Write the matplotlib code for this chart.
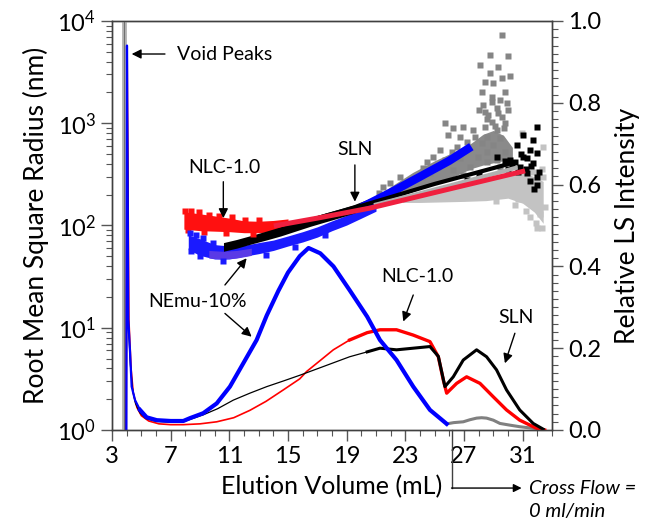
import matplotlib
matplotlib.use('Agg')
import matplotlib.pyplot as plt
from matplotlib.ticker import MultipleLocator, LogLocator, NullFormatter

plt.rcParams['font.family'] = ['Lato', 'DejaVu Sans']
plt.rcParams['mathtext.fontset'] = 'custom'
plt.rcParams['mathtext.rm'] = 'Lato'
plt.rcParams['mathtext.it'] = 'Lato:italic'
plt.rcParams['mathtext.default'] = 'regular'

# ---- light scattering traces (right axis, relative intensity) ----
gray_void_x = [3.84, 3.84]
gray_void_y = [0.0, 1.0]

red_ls_x = [3.97, 4.03, 4.15, 4.3, 4.45, 4.7, 5.0, 5.5, 6.2, 7.0, 7.86, 9.0, 10.14, 11.3, 12.4,
            13.5, 14.68, 15.8, 16.27, 17.2, 18.09, 19.2, 20.4, 21.27, 22.4, 23.54, 24.68, 25.25,
            25.59, 25.82, 26.5, 27.18, 28.09, 29.0, 29.9, 30.8, 31.95, 32.5]
red_ls_y = [0.0, 0.93, 0.27, 0.15, 0.09, 0.055, 0.035, 0.022, 0.015, 0.013, 0.013, 0.015, 0.02,
            0.03, 0.048, 0.07, 0.098, 0.125, 0.143, 0.17, 0.196, 0.22, 0.238, 0.245, 0.245, 0.232,
            0.216, 0.179, 0.122, 0.09, 0.114, 0.13, 0.114, 0.081, 0.049, 0.024, 0.004, 0.0]

black_ls_x = [3.97, 4.03, 4.12, 4.25, 4.4, 4.6, 4.9, 5.3, 6.0, 7.0, 7.86, 9.22, 10.2, 11.27, 12.4,
              13.55, 14.7, 15.82, 17.4, 19.2, 20.4, 21.27, 22.4, 23.54, 24.68, 25.25, 25.7, 26.27,
              26.95, 27.86, 28.54, 29.22, 29.9, 30.8, 31.72, 32.4]
black_ls_y = [0.0, 0.9, 0.26, 0.16, 0.1, 0.065, 0.042, 0.028, 0.021, 0.019, 0.02, 0.037, 0.052,
              0.073, 0.09, 0.106, 0.12, 0.134, 0.155, 0.179, 0.191, 0.2, 0.196, 0.2, 0.204, 0.18,
              0.106, 0.13, 0.171, 0.196, 0.179, 0.147, 0.098, 0.049, 0.016, 0.002]

blue_ls_x = [3.98, 4.02, 4.11, 4.23, 4.34, 4.57, 4.91, 5.36, 6.05, 7.0, 7.86, 8.32, 9.22, 10.14,
             11.04, 11.95, 12.86, 13.55, 14.34, 15.0, 15.8, 16.4, 17.2, 18.1, 19.2, 20.4, 21.27,
             22.4, 23.54, 24.68, 25.82]
blue_ls_y = [0.0, 0.94, 0.27, 0.19, 0.106, 0.073, 0.049, 0.031, 0.024, 0.022, 0.022, 0.029, 0.041,
             0.065, 0.106, 0.163, 0.22, 0.28, 0.34, 0.385, 0.425, 0.445, 0.432, 0.40, 0.342, 0.277,
             0.22, 0.171, 0.106, 0.049, 0.015]

gray_ls_x = [25.82, 26.3, 26.95, 27.4, 27.86, 28.2, 28.54, 29.0, 29.45, 30.1, 30.8, 31.5, 32.2]
gray_ls_y = [0.015, 0.018, 0.02, 0.025, 0.029, 0.03, 0.029, 0.024, 0.016, 0.012, 0.008, 0.005, 0.002]

# ---- RMS radius (left axis, nm) ----
red_band_x = [7.9, 9.0, 10.0, 11.0, 12.0, 13.0, 14.0, 15.0]
red_band_lo = [92, 89, 88, 87, 85, 85, 87, 92]
red_band_hi = [136, 130, 124, 118, 111, 110, 112, 116]
red_pts_x = [8.0, 8.4, 8.9, 9.6, 10.3, 11.2, 12.1, 13.0, 8.2, 9.3, 10.8, 12.6]
red_pts_y = [140, 138, 134, 128, 125, 120, 114, 113, 90, 86, 84, 83]

blue_band_x = [8.2, 9.0, 10.0, 11.0, 12.0, 13.0, 14.0, 15.0, 16.0, 17.0, 18.0, 19.0, 20.0, 21.0]
blue_band_lo = [58, 51, 47, 47, 50, 53, 57, 63, 69, 77, 89, 101, 118, 138]
blue_band_hi = [81, 74, 65, 63, 64, 68, 72, 79, 87, 97, 111, 126, 146, 170]
blue_pts_x = [8.3, 8.7, 9.2, 9.9, 8.4, 9.0, 10.6, 13.5, 15.5, 17.5]
blue_pts_y = [84, 80, 76, 68, 56, 50, 45, 51, 61, 80]

purple_x = [9.6, 10.5, 11.5, 12.5]
purple_lo = [48, 47, 48, 51]
purple_hi = [57, 56, 57, 60]

black_band_x = [10.6, 11.5, 12.5, 13.5, 14.5, 15.5, 16.5, 17.5, 18.5, 19.5, 20.5]
black_band_lo = [56, 60, 66, 72, 79, 88, 98, 108, 119, 132, 150]
black_band_hi = [68, 73, 80, 88, 97, 107, 119, 132, 145, 160, 182]

lgray_band_x = [22.8, 24.0, 25.5, 27.0, 28.5, 30.0, 31.0, 31.8, 32.4]
lgray_band_lo = [168, 168, 170, 172, 175, 185, 165, 135, 105]
lgray_band_hi = [182, 209, 234, 257, 282, 316, 330, 300, 270]

lgray_pts_x = [32.4, 32.4, 30.93, 32.0, 32.3, 31.9, 32.5, 31.5, 32.2, 31.2, 30.5, 29.2, 32.1,
               31.7, 32.3, 31.1, 30.7]
lgray_pts_y = [300, 589, 800, 95, 94, 105, 150, 120, 130, 140, 160, 175, 240, 330, 360, 350, 180]

dgray_band_x = [20.5, 22.0, 23.5, 25.0, 26.5, 27.5, 28.3, 29.0, 29.7, 30.3]
dgray_band_lo = [140, 175, 215, 255, 310, 360, 390, 410, 430, 450]
dgray_band_hi = [170, 240, 330, 430, 540, 640, 780, 850, 760, 580]

dgray_pts_x = [29.57, 28.77, 30.02, 28.09, 29.34, 28.77, 29.57, 30.14, 28.43, 29.0, 29.8, 28.2,
               28.89, 29.45, 29.9, 28.32, 29.23, 30.02, 28.0, 28.66, 29.57, 28.89, 29.8, 28.43,
               25.7, 26.27, 26.95, 27.64, 29.23, 25.93, 26.73, 27.75, 28.55, 29.45, 27.18, 28.2,
               29.0, 26.5, 25.36, 26.16, 28.55, 29.8, 24.9, 25.7, 26.73, 27.98, 29.23, 24.45,
               25.25, 27.41, 28.55, 24.23, 26.27, 29.45, 24.68, 26.95, 24.11, 22.63, 21.95, 21.5,
               23.3, 22.9, 21.2, 28.6, 29.3, 29.1, 28.4, 29.7, 28.9]
dgray_pts_y = [7300, 4660, 4550, 3720, 3580, 3080, 2750, 2900, 2550, 2460, 2040, 2040, 1820,
               1690, 1570, 1510, 1400, 1350, 1350, 1205, 1160, 1040, 1000, 927, 1000, 890, 927,
               860, 860, 767, 740, 740, 740, 713, 661, 637, 613, 590, 548, 527, 527, 527, 471,
               437, 454, 471, 437, 421, 377, 377, 421, 362, 349, 377, 324, 312, 300, 300, 260,
               240, 280, 250, 210, 1100, 1250, 950, 1300, 900, 1600]

black_pts_x = [31.95, 31.04, 31.72, 30.59, 31.5, 31.95, 31.04, 30.13, 31.72, 30.81, 31.27, 31.95,
               31.95, 29.22, 30.5, 31.3, 31.6, 30.9, 31.2, 32.1, 31.8, 31.5, 30.3, 29.8, 28.0,
               27.2, 30.0, 30.7]
black_pts_y = [925, 767, 685, 612, 547, 508, 471, 437, 406, 376, 324, 300, 249, 471, 420, 460,
               380, 500, 360, 330, 230, 270, 390, 430, 310, 280, 360, 330]

# fitted lines
blue_fit_x = [20.0, 22.0, 24.0, 26.0, 27.5]
blue_fit_y = [150, 210, 300, 430, 590]
black_fit_x = [14.0, 17.0, 20.6, 25.0, 30.2]
black_fit_y = [85, 118, 165, 255, 405]
lgray_fit_x = [21.0, 26.0, 30.5]
lgray_fit_y = [160, 245, 365]
red_fit_x = [14.2, 17.0, 20.6, 25.0, 31.0]
red_fit_y = [100, 118, 148, 210, 338]

xticks = [3, 7, 11, 15, 19, 23, 27, 31]

fig = plt.figure(figsize=(6.52, 5.21), dpi=100)
ax = fig.add_axes([0.1718, 0.1747, 0.6748, 0.785])
ax2 = ax.twinx()

# left axis: RMS radius
ms = 4.3
ax.fill_between(lgray_band_x, lgray_band_lo, lgray_band_hi, color='#c3c3c3', lw=0)
ax.plot(lgray_pts_x, lgray_pts_y, 's', ms=ms, color='#c3c3c3', mec='none')
ax.fill_between(dgray_band_x, dgray_band_lo, dgray_band_hi, color='#8a8a8a', lw=0)
ax.plot(dgray_pts_x, dgray_pts_y, 's', ms=ms, color='#858585', mec='none')
ax.plot(black_pts_x, black_pts_y, 's', ms=ms, color='black', mec='none')
ax.fill_between(red_band_x, red_band_lo, red_band_hi, color='#ff1010', lw=0)
ax.plot(red_pts_x, red_pts_y, 's', ms=ms, color='#ff1010', mec='none')
ax.fill_between(blue_band_x, blue_band_lo, blue_band_hi, color='#1a1aff', lw=0)
ax.plot(blue_pts_x, blue_pts_y, 's', ms=ms, color='#1a1aff', mec='none')
ax.fill_between(purple_x, purple_lo, purple_hi, color='#5a3ae6', lw=0)
ax.fill_between(black_band_x, black_band_lo, black_band_hi, color='black', lw=0)
ax.plot(blue_fit_x, blue_fit_y, color='#0000ff', lw=6, solid_capstyle='butt')
ax.plot(black_fit_x, black_fit_y, color='black', lw=3)
ax.plot(lgray_fit_x, lgray_fit_y, color='#b0b0b0', lw=3)
ax.plot(red_fit_x, red_fit_y, color='#f0203f', lw=3.6)

# right axis: LS intensity (noisy parts drawn thicker)
ax2.plot(gray_void_x, gray_void_y, color='#b4b4b4', lw=3.5, solid_capstyle='butt')
ax2.plot(gray_void_x, gray_void_y, color='#707070', lw=0.8)
ax2.plot(gray_ls_x, gray_ls_y, color='#808080', lw=2.2)
ax2.plot(red_ls_x, red_ls_y, color='#ff0000', lw=1.2)
ax2.plot(red_ls_x[21:], red_ls_y[21:], color='#ff0000', lw=2.4)
ax2.plot(black_ls_x, black_ls_y, color='black', lw=0.9)
ax2.plot(black_ls_x[20:], black_ls_y[20:], color='black', lw=2.2)
ax2.plot(blue_ls_x, blue_ls_y, color='#0000ff', lw=1.6)
ax2.plot(blue_ls_x[6:], blue_ls_y[6:], color='#0000ff', lw=3.0)

ax.set_xlim(3, 33)
ax.set_yscale('log')
ax.set_ylim(1, 1e4)
ax2.set_ylim(0, 1.0)

ax.set_xticks(xticks)
ax.xaxis.set_minor_locator(MultipleLocator(1))
ax.yaxis.set_major_locator(LogLocator(base=10))
ax.yaxis.set_minor_locator(LogLocator(base=10, subs=range(2, 10)))
ax.yaxis.set_minor_formatter(NullFormatter())
ax2.yaxis.set_minor_locator(MultipleLocator(0.02))
ax2.set_yticks([0.0, 0.2, 0.4, 0.6, 0.8, 1.0])
ax2.set_yticklabels(['0.0', '0.2', '0.4', '0.6', '0.8', '1.0'])

for a in (ax, ax2):
    for s in a.spines.values():
        s.set_color('#404040')
        s.set_linewidth(1)
ax.tick_params(which='major', direction='out', length=8, width=1, color='#555555', labelsize=17,
               right=False, top=False)
ax.tick_params(which='minor', direction='out', length=4.5, width=0.8, color='#555555',
               right=False, top=False)
ax2.tick_params(which='major', direction='out', length=8, width=1, color='#555555', labelsize=17,
                left=False)
ax2.tick_params(which='minor', direction='out', length=4.5, width=0.8, color='#555555', left=False)

ax.set_xlabel('Elution Volume (mL)', fontsize=18, labelpad=6)
ax.set_ylabel('Root Mean Square Radius (nm)', fontsize=19, labelpad=6)
ax2.set_ylabel('Relative LS Intensity', fontsize=19, labelpad=10)

arr = dict(arrowstyle='-|>', color='black', lw=1.0, mutation_scale=14, shrinkA=0, shrinkB=0)
ax.annotate('', xy=(4.34, 4755), xytext=(6.61, 4755), arrowprops=arr)
ax.text(7.41, 4755, 'Void Peaks', fontsize=14, va='center', ha='left')
ax.text(10.63, 373, 'NLC-1.0', fontsize=14, va='center', ha='center')
ax.annotate('', xy=(10.59, 118), xytext=(10.59, 268), arrowprops=arr)
ax.text(19.56, 548, 'SLN', fontsize=14, va='center', ha='center')
ax.annotate('', xy=(19.56, 171), xytext=(19.56, 391), arrowprops=arr)
ax.text(8.86, 17.9, 'NEmu-10%', fontsize=14, va='center', ha='center')
ax.annotate('', xy=(12.18, 47.8), xytext=(10.7, 26.2), arrowprops=arr)
ax.annotate('', xy=(12.52, 8.17), xytext=(10.7, 13.8), arrowprops=arr)
ax.text(23.79, 31.4, 'NLC-1.0', fontsize=14, va='center', ha='center')
ax.annotate('', xy=(22.86, 11.5), xytext=(23.54, 20.9), arrowprops=arr)
ax.text(30.54, 12.5, 'SLN', fontsize=14, va='center', ha='center')
ax.annotate('', xy=(29.79, 4.49), xytext=(30.47, 8.83), arrowprops=arr)

# cross flow marker below the axis
tr = ax.get_xaxis_transform()
ax.plot([26.15, 26.15], [0.0, -0.142], color='#404040', lw=1, transform=tr, clip_on=False)
ax.annotate('', xy=(30.93, -0.142), xytext=(26.15, -0.142), xycoords=tr, textcoords=tr,
            arrowprops=dict(arrowstyle='-|>', color='black', lw=1, mutation_scale=12,
                            shrinkA=0, shrinkB=0), annotation_clip=False)
ax.text(31.45, -0.142, 'Cross Flow =', transform=tr, fontsize=14.5, style='italic',
        va='center', ha='left', clip_on=False)
ax.text(31.45, -0.2, '0 ml/min', transform=tr, fontsize=14.5, style='italic',
        va='center', ha='left', clip_on=False)

fig.savefig('out.png', dpi=100)
